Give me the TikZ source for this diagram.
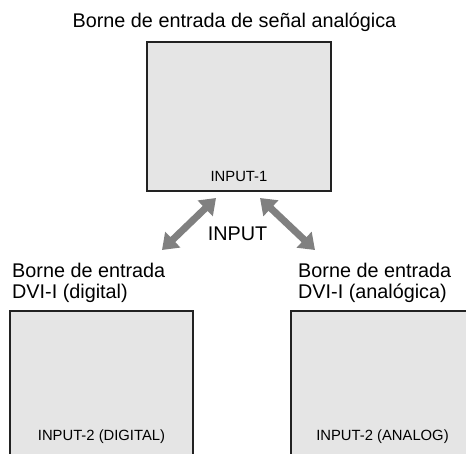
\documentclass[tikz,border=0pt]{standalone}
\usepackage{fontspec}
\setmainfont{Liberation Sans}
\usetikzlibrary{arrows.meta}
\definecolor{boxfill}{HTML}{E5E5E5}
\definecolor{boxline}{HTML}{222222}
\definecolor{arrowgray}{HTML}{808080}
\begin{document}
\begin{tikzpicture}[x=1pt,y=-1pt,
  panel/.style={draw=boxline,fill=boxfill,line width=1.8pt,anchor=north west,inner sep=0pt,outer sep=0pt},
  biglabel/.style={inner sep=0pt,font=\fontsize{19.8}{24}\selectfont},
  smalllabel/.style={inner sep=0pt,font=\fontsize{14.8}{18}\selectfont},
  dblarrow/.style={draw=arrowgray,line width=7pt,{Triangle[width=21pt,length=15pt]}-{Triangle[width=21pt,length=15pt]}}]
\clip (0,0) rectangle (466,453);
\fill[white] (0,0) rectangle (466,453);
% panels
\node[panel,minimum width=184pt,minimum height=149pt] (top) at (147,42) {};
\node[panel,minimum width=183pt,minimum height=160pt] (left) at (10,311) {};
\node[panel,minimum width=183pt,minimum height=160pt] (right) at (291,311) {};
% titles
\node[biglabel,anchor=base] (ttop) at (234.5,27.5) {Borne de entrada de señal analógica};
\node[biglabel,anchor=base west] (tl1) at (12,277) {Borne de entrada};
\node[biglabel,anchor=base west] (tl2) at (12,298.5) {DVI-I (digital)};
\node[biglabel,anchor=base west] (tr1) at (298,277) {Borne de entrada};
\node[biglabel,anchor=base west] (tr2) at (298,298.5) {DVI-I (analógica)};
% inner labels
\node[smalllabel,anchor=base] (in1) at (239,181.5) {INPUT-1};
\node[smalllabel,anchor=base] (in2d) at (101.5,440.5) {INPUT-2 (DIGITAL)};
\node[smalllabel,anchor=base] (in2a) at (382.5,440.5) {INPUT-2 (ANALOG)};
% arrows
\node[biglabel,anchor=base] (inp) at (237.5,240) {INPUT};
\coordinate (a1) at (216,198);
\coordinate (a2) at (162,250);
\coordinate (b1) at (260,198);
\coordinate (b2) at (315,250);
\draw[dblarrow] (a1) -- (a2);
\draw[dblarrow] (b1) -- (b2);
\end{tikzpicture}
\end{document}
